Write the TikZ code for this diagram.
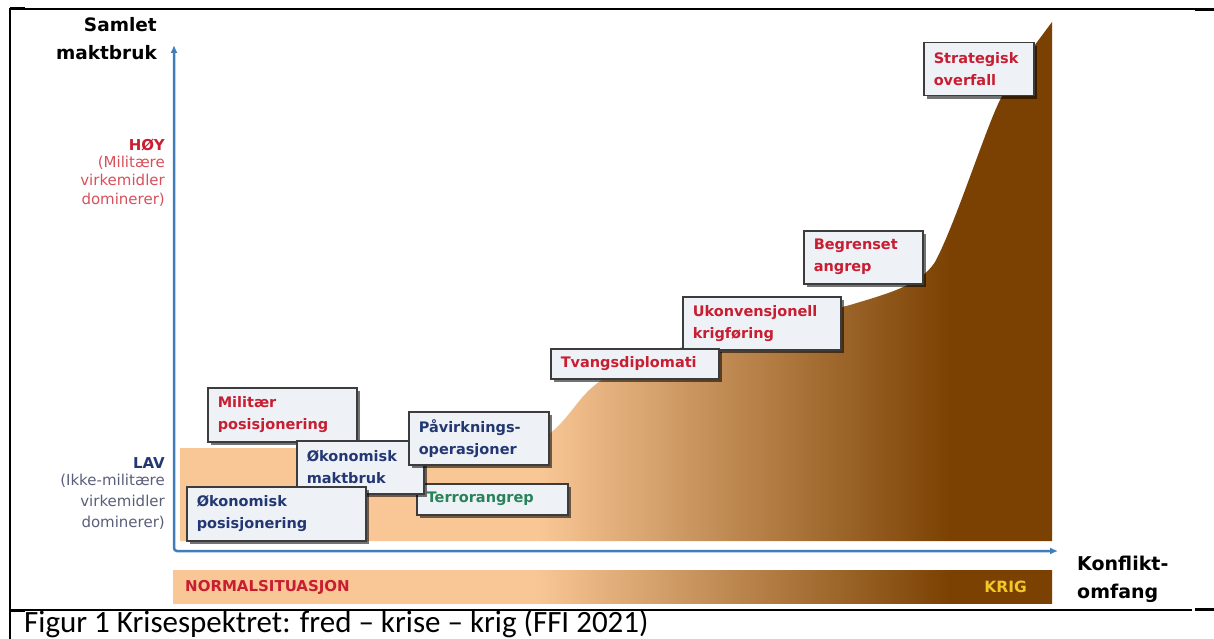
\documentclass[tikz,border=0pt]{standalone}
\usepackage{fontspec}
\setmainfont{DejaVu Sans}
\newfontfamily\capfont{Carlito}
\usetikzlibrary{arrows.meta,shadows}

\definecolor{peach}{RGB}{249,199,150}
\definecolor{darkbrown}{RGB}{122,65,2}
\definecolor{axisblue}{RGB}{65,125,185}
\definecolor{boxfill}{RGB}{238,241,246}
\definecolor{boxline}{RGB}{60,60,60}
\definecolor{milred}{RGB}{200,30,50}
\definecolor{ecoblue}{RGB}{35,55,115}
\definecolor{tergreen}{RGB}{40,130,90}
\definecolor{hoyred}{RGB}{215,80,90}
\definecolor{lavgray}{RGB}{90,95,120}
\definecolor{kriggold}{RGB}{240,200,40}

\pgfdeclarehorizontalshading{krisefade}{100bp}{color(0bp)=(peach); color(45.6bp)=(peach); color(69.2bp)=(darkbrown); color(100bp)=(darkbrown)}

\tikzset{
  stage/.style={draw=boxline, line width=1.5pt, fill=boxfill, anchor=north west, align=left,
    inner xsep=10pt, inner ysep=0pt, font=\bfseries\fontsize{14.5}{22}\selectfont,
    drop shadow={shadow xshift=3pt, shadow yshift=-3pt, fill=black, opacity=.55}},
  axis/.style={draw=axisblue, line width=2.5pt, rounded corners=3pt,
    {Latex[length=8pt,width=7pt]}-{Latex[length=8pt,width=7pt]}},
  side/.style={anchor=east, align=right, inner sep=0pt},
  frame/.style={line width=1.2pt},
  frametab/.style={line width=3pt},
}

\begin{document}
\begin{tikzpicture}[x=1pt, y=-1pt]
  \useasboundingbox (0,0) rectangle (1214,639);
  % table borders
  \draw[frame] (10,9) -- (1195,9);
  \draw[frame] (10,610) -- (1192,610);
  \draw[line width=2.4pt] (10,8) -- (10,639);
  \draw[frametab] (10,9) -- (25,9);
  \draw[frametab] (10,610) -- (25,610);
  \draw[frametab] (1195,10) -- (1214,10);
  \draw[frametab] (1195,609) -- (1214,609);

  % spectrum
  \shade[shading=krisefade] (180,541) -- (180,448) -- (505,448)
    .. controls (545,448) and (560,425) .. (580,400)
    .. controls (600,375) and (630,362) .. (690,345)
    -- (850,305)
    .. controls (890,293) and (920,285) .. (935,262)
    .. controls (955,225) and (985,130) .. (1000,100)
    .. controls (1015,70) and (1035,45) .. (1052,22)
    -- (1052,541) -- cycle;
  \shade[shading=krisefade] (173,570) rectangle (1052,603);
  \node[anchor=west, inner sep=0pt, text=milred, font=\bfseries\fontsize{15}{18}\selectfont] (normal) at (185,587) {NORMALSITUASJON};
  \node[anchor=east, inner sep=0pt, text=kriggold, font=\bfseries\fontsize{15.5}{18}\selectfont] (krig) at (1027,587) {KRIG};

  % axes
  \coordinate (ytop) at (174,45);
  \coordinate (origo) at (174,551);
  \coordinate (xend) at (1058,551);
  \draw[axis] (ytop) -- (origo) -- (xend);

  \node[side, font=\bfseries\fontsize{18.5}{28}\selectfont] (samlet) at (157,39) {Samlet\\maktbruk};
  \node[side, text=milred, font=\bfseries\fontsize{15}{18}\selectfont] (hoy) at (165,145) {HØY};
  \node[side, text=hoyred, font=\fontsize{15}{18.5}\selectfont] (hoytxt) at (165,181) {(Militære\\virkemidler\\dominerer)};
  \node[side, text=ecoblue, font=\bfseries\fontsize{15}{18}\selectfont] (lav) at (165,463) {LAV};
  \node[side, text=lavgray, font=\fontsize{15}{21}\selectfont] (lavtxt) at (165,502) {(Ikke-militære\\virkemidler\\dominerer)};
  \node[anchor=west, align=left, inner sep=0pt, font=\bfseries\fontsize{19}{28}\selectfont] (omfang) at (1077,579) {Konflikt-\\omfang};

  % stages
  \node[stage, text=milred, text width=90pt, minimum height=53pt] (strat) at (923,42) {Strategisk\\overfall};
  \node[stage, text=milred, text width=99pt, minimum height=53pt] (begr) at (803,230) {Begrenset\\angrep};
  \node[stage, text=milred, text width=138pt, minimum height=53pt] (ukonv) at (682,296) {Ukonvensjonell\\krigføring};
  \node[stage, text=milred, text width=148pt, minimum height=30pt] (tvang) at (550,348) {Tvangsdiplomati};
  \node[stage, text=milred, text width=129pt, minimum height=54pt] (milpos) at (207,387) {Militær\\posisjonering};
  \node[stage, text=tergreen, text width=131pt, minimum height=31pt] (terror) at (416,483) {Terrorangrep};
  \node[stage, text=ecoblue, text width=107pt, minimum height=53pt] (okmakt) at (296,440) {Økonomisk\\maktbruk};
  \node[stage, text=ecoblue, text width=120pt, minimum height=53pt] (pavirk) at (408,411) {Påvirknings-\\operasjoner};
  \node[stage, text=ecoblue, text width=159pt, minimum height=54pt] (okpos) at (186,486) {Økonomisk\\posisjonering};

  \node[anchor=base west, inner sep=0pt, font=\capfont\fontsize{31}{34}\selectfont] (caption) at (24,632) {Figur 1 Krisespektret: fred – krise – krig (FFI 2021)};
\end{tikzpicture}
\end{document}
